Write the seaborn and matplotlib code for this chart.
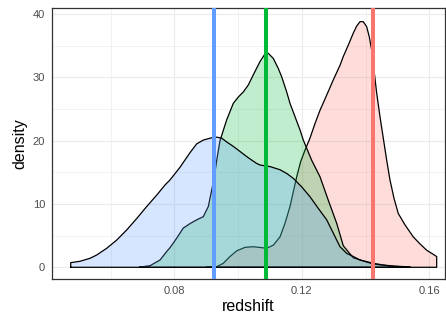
import numpy as np
import pandas as pd
import matplotlib
matplotlib.use("Agg")
import matplotlib.pyplot as plt
import seaborn as sns

# ---- data ----
groups = ["red", "green", "blue"]
colors = {"red": "#F8766D", "green": "#00BA38", "blue": "#619CFF"}

red_x = [0.0900, 0.09330, 0.09537, 0.09747, 0.09958, 0.10218, 0.10478, 0.10742, 0.10899,
         0.11106, 0.11316, 0.11473, 0.11630, 0.11733, 0.11840, 0.11965, 0.12100, 0.12257,
         0.12414, 0.12571, 0.12781, 0.12988, 0.13198, 0.13302, 0.13459, 0.13616, 0.13722,
         0.13826, 0.13929, 0.14036, 0.14118, 0.14193, 0.14265, 0.14350, 0.14453, 0.14557,
         0.14664, 0.14767, 0.14893, 0.15027, 0.15238, 0.15498, 0.15708, 0.15918, 0.16232]
red_y = [0.01, 0.1, 0.63, 1.7, 2.6, 3.15, 3.25, 3.1, 3.0,
         3.5, 4.8, 6.95, 9.6, 11.9, 14.3, 16.7, 18.5, 20.4,
         22.7, 24.8, 27.2, 29.6, 31.9, 33.3, 35.1, 37.0, 38.1,
         38.8, 38.8, 38.0, 36.4, 34.3, 31.2, 27.5, 23.8, 20.4,
         16.9, 13.8, 10.9, 8.5, 6.7, 4.8, 3.7, 2.7, 1.7]

green_x = [0.06900, 0.07238, 0.07552, 0.07762, 0.07865, 0.08075, 0.08282, 0.08492, 0.08703,
           0.08910, 0.09067, 0.09173, 0.09255, 0.09330, 0.09434, 0.09644, 0.09851, 0.10008,
           0.10165, 0.10322, 0.10478, 0.10689, 0.10845, 0.10949, 0.11106, 0.11263, 0.11369,
           0.11526, 0.11630, 0.11787, 0.11944, 0.12047, 0.12311, 0.12571, 0.12831, 0.13095,
           0.13302, 0.13616, 0.14243, 0.14871, 0.15395]
green_y = [0.02, 0.25, 1.15, 2.5, 3.1, 4.6, 6.2, 6.9, 7.5,
           8.0, 9.6, 12.2, 14.3, 16.9, 20.0, 23.3, 25.9, 26.9,
           27.7, 28.8, 30.4, 32.5, 33.7, 33.8, 33.0, 31.4, 30.1,
           27.7, 25.9, 23.8, 21.7, 20.1, 16.9, 14.3, 10.6, 6.95,
           3.4, 1.5, 0.5, 0.15, 0.03]

blue_x = [0.04750, 0.05042, 0.05356, 0.05565, 0.05879, 0.06193, 0.06507, 0.06820, 0.07134,
          0.07448, 0.07708, 0.07865, 0.08179, 0.08492, 0.08703, 0.08910, 0.09277, 0.09487,
          0.09644, 0.09851, 0.10061, 0.10322, 0.10585, 0.10695, 0.11009, 0.11322, 0.11533,
          0.11733, 0.11997, 0.12257, 0.12518, 0.12781, 0.12988, 0.13198, 0.13409, 0.13616,
          0.13826, 0.14243, 0.14557, 0.14871, 0.15395]
blue_y = [0.73, 0.95, 1.42, 1.94, 3.0, 4.3, 5.9, 7.7, 9.6,
          11.4, 13.0, 13.8, 15.8, 18.1, 19.5, 20.1, 20.6, 20.4,
          19.8, 19.1, 18.3, 17.3, 16.4, 16.15, 15.9, 15.4, 14.8,
          14.05, 12.7, 11.15, 9.3, 7.5, 5.4, 3.25, 2.2, 1.7,
          1.15, 0.63, 0.36, 0.2, 0.05]

means = {"red": 0.1422, "green": 0.1088, "blue": 0.0925}

x_major = [0.08, 0.12, 0.16]
x_labels = ["0.08", "0.12", "0.16"]
x_minor = [0.06, 0.10, 0.14]
y_major = [0, 10, 20, 30, 40]
y_minor = [5, 15, 25, 35]

curves = {"red": (red_x, red_y), "green": (green_x, green_y), "blue": (blue_x, blue_y)}

# ---- figure ----
sns.set_style("white")
plt.rcParams["font.family"] = ["Liberation Sans", "DejaVu Sans"]

W, H, DPI = 446, 318, 100
fig = plt.figure(figsize=(W / DPI, H / DPI), dpi=DPI)
ax = fig.add_axes([52 / W, 1 - 279 / H, (445 - 52) / W, (279 - 8) / H])

ax.set_xlim(0.04163, 0.16493)
ax.set_ylim(-1.85, 40.96)

grid_c = "#EBEBEB"
for v in x_major:
    ax.axvline(v, color=grid_c, lw=0.8, zorder=0)
for v in x_minor:
    ax.axvline(v, color=grid_c, lw=0.45, zorder=0)
for v in y_major:
    ax.axhline(v, color=grid_c, lw=0.8, zorder=0)
for v in y_minor:
    ax.axhline(v, color=grid_c, lw=0.45, zorder=0)

z = 2
for g in groups:
    xs, ys = curves[g]
    rgba = matplotlib.colors.to_rgba(colors[g], 0.25)
    ax.fill_between(xs, ys, 0, facecolor=rgba, edgecolor="none", zorder=z)
    ox = [xs[0]] + list(xs) + [xs[-1], xs[0]]
    oy = [0] + list(ys) + [0, 0]
    df = pd.DataFrame({"redshift": ox, "density": oy})
    sns.lineplot(data=df, x="redshift", y="density", sort=False, estimator=None,
                 color="black", lw=0.9, ax=ax, zorder=z + 0.5)
    z += 1

for g in groups:
    ax.axvline(means[g], color=colors[g], lw=2.9, zorder=10)

ax.set_xticks(x_major)
ax.set_xticklabels(x_labels)
ax.set_yticks(y_major)
ax.tick_params(axis="both", which="major", length=3, width=0.8, color="#333333",
               labelcolor="#4D4D4D", labelsize=8, pad=2)
for s in ax.spines.values():
    s.set_color("#333333")
    s.set_linewidth(0.9)

ax.set_xlabel("redshift", fontsize=11.5, color="black", labelpad=2)
ax.set_ylabel("density", fontsize=11.5, color="black", labelpad=4)

fig.savefig("out.png", dpi=DPI)
